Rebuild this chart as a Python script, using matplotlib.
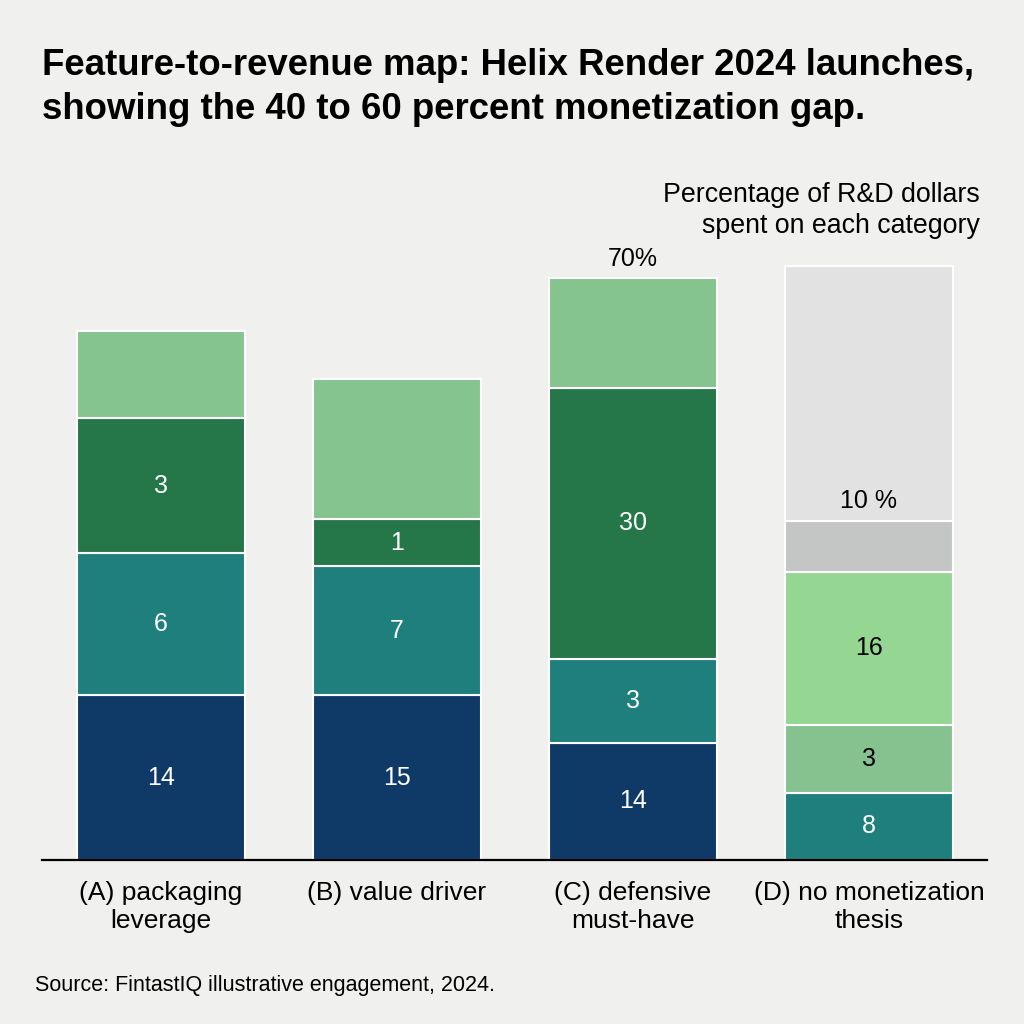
import matplotlib
matplotlib.use("Agg")
import matplotlib.pyplot as plt

plt.rcParams['font.family'] = ['Liberation Sans', 'DejaVu Sans']

# categories and stacked segment heights (percent of R&D dollars)
categories = ["(A) packaging\nleverage", "(B) value driver",
              "(C) defensive\nmust-have", "(D) no monetization\nthesis"]

heights_a = [19.8, 17.1, 16.3, 10.4]
heights_b = [19.8, 15.6, 5.6, 16.9]
heights_c = [14.1, 10.1, 32.6, 13.2]
heights_d = [8.1, 8.2, 18.4, 6.1, 30.7]

labels_a = ["14", "6", "3", ""]
labels_b = ["15", "7", "1", ""]
labels_c = ["14", "3", "30", ""]
labels_d = ["8", "3", "16", "", ""]

navy = "#0f3a68"
teal = "#1e7f7c"
dkgreen = "#25774a"
ltgreen = "#85c38f"
colors_abc = [navy, teal, dkgreen, ltgreen]
colors_d = [teal, "#86c190", "#95d692", "#c3c6c5", "#e2e2e2"]
textcol_abc = ["white", "white", "white", "black"]
textcol_d = ["white", "black", "black", "black", "black"]

bars = [
    (heights_a, labels_a, colors_abc, textcol_abc),
    (heights_b, labels_b, colors_abc, textcol_abc),
    (heights_c, labels_c, colors_abc, textcol_abc),
    (heights_d, labels_d, colors_d, textcol_d),
]

bg = "#f0f0ef"
fig = plt.figure(figsize=(10.24, 10.24), dpi=100, facecolor=bg)
ax = fig.add_axes([42 / 1024, 1 - 860 / 1024, 945 / 1024, 610 / 1024])
ax.set_facecolor(bg)

width = 0.71
for i, (hs, labs, cols, tcols) in enumerate(bars):
    bottom = 0
    for h, lab, c, tc in zip(hs, labs, cols, tcols):
        ax.bar(i, h, width=width, bottom=bottom, color=c,
               edgecolor="white", linewidth=1.5)
        if lab:
            ax.text(i, bottom + h / 2, lab, ha="center", va="center",
                    color=tc, fontsize=18)
        bottom += h

# annotations above bars
ax.text(2, sum(heights_c) + 0.9, "70%", ha="center", va="bottom", fontsize=18)
ax.text(3, sum(heights_d[:4]) + 1.0, "10 %", ha="center", va="bottom", fontsize=18)

ax.set_xlim(-0.503, 3.5)
ax.set_ylim(0, 73.4)
ax.set_yticks([])
ax.set_xticks(range(len(categories)))
ax.set_xticklabels(categories, fontsize=19)
ax.tick_params(axis="x", length=0, pad=15)
for s in ["top", "left", "right"]:
    ax.spines[s].set_visible(False)
ax.spines["bottom"].set_linewidth(1.6)
ax.spines["bottom"].set_color("black")

# title, two lines
fig.text(42 / 1024, 1 - 75 / 1024,
         "Feature-to-revenue map: Helix Render 2024 launches,",
         ha="left", va="baseline", fontsize=26.4, fontweight="bold")
fig.text(42 / 1024, 1 - 119 / 1024,
         "showing the 40 to 60 percent monetization gap.",
         ha="left", va="baseline", fontsize=26.4, fontweight="bold")

fig.text(980 / 1024, 1 - 202 / 1024, "Percentage of R&D dollars",
         ha="right", va="baseline", fontsize=19.3)
fig.text(980 / 1024, 1 - 233 / 1024, "spent on each category",
         ha="right", va="baseline", fontsize=19.3)

fig.text(35 / 1024, 1 - 985 / 1024,
         "Source: FintastIQ illustrative engagement, 2024.",
         ha="left", va="center", fontsize=15.5)

fig.savefig("out.png", dpi=100, facecolor=bg)
